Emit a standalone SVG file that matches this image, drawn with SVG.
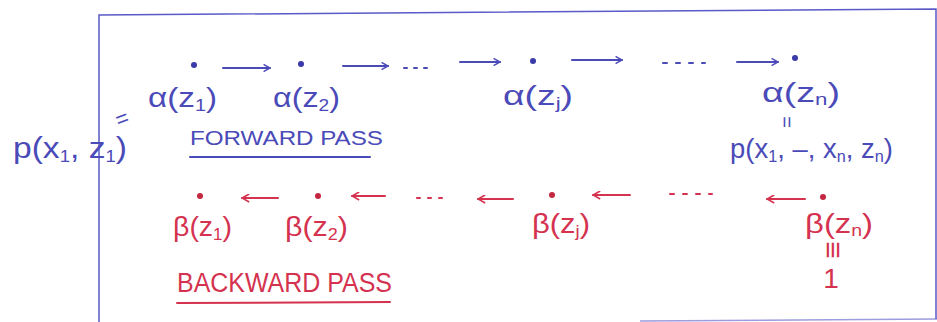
<svg xmlns="http://www.w3.org/2000/svg" width="937" height="322" viewBox="0 0 937 322">
<style>
.b{fill:#4a4ab8;font-family:"Liberation Sans",sans-serif;}
.r{fill:#d4324f;font-family:"Liberation Sans",sans-serif;}
.lb{font-size:27px;}
.sub{font-size:16px;}
.dotb{fill:#3a3aa8;}
.dotr{fill:#c42840;}
.cb{stroke:#4a4ab8;stroke-width:2;fill:none;stroke-linecap:round;}
.cr{stroke:#d4324f;stroke-width:2;fill:none;stroke-linecap:round;}
.frame{stroke:#5a5ac8;stroke-width:1.5;fill:none;}
</style>
<defs>
<marker id="ab" viewBox="0 0 10 10" refX="9" refY="5" markerWidth="8" markerHeight="8" orient="auto" markerUnits="userSpaceOnUse"><path d="M1,0.5 L9,5 L1,9.5" fill="none" stroke="#4a4ab8" stroke-width="1.8"/></marker>
<marker id="ar" viewBox="0 0 10 10" refX="9" refY="5" markerWidth="9" markerHeight="9" orient="auto" markerUnits="userSpaceOnUse"><path d="M1,0.5 L9,5 L1,9.5" fill="none" stroke="#d4324f" stroke-width="1.8"/></marker>
</defs>
<rect width="937" height="322" fill="#ffffff"/>
<g id="frame">
<path class="frame" d="M99,322 L99,15 L936,9 L936,319"/>
<path class="frame" d="M640,321 L937,319" opacity="0.6"/>
</g>
<g id="connectors">
<line class="cb" x1="223" y1="68" x2="270" y2="68" marker-end="url(#ab)"/>
<line class="cb" x1="343" y1="66" x2="388" y2="66" marker-end="url(#ab)"/>
<line class="cb" x1="404" y1="68" x2="430" y2="68" stroke-dasharray="3 7" stroke-width="1.4"/>
<line class="cb" x1="460" y1="62" x2="500" y2="62" marker-end="url(#ab)"/>
<line class="cb" x1="572" y1="60" x2="622" y2="60" marker-end="url(#ab)"/>
<line class="cb" x1="663" y1="63" x2="705" y2="63" stroke-dasharray="4 9" stroke-width="1.4"/>
<line class="cb" x1="737" y1="62" x2="778" y2="62" marker-end="url(#ab)"/>
<line class="cr" x1="278" y1="198" x2="242" y2="198" marker-end="url(#ar)"/>
<line class="cr" x1="385" y1="196" x2="352" y2="196" marker-end="url(#ar)"/>
<line class="cr" x1="417" y1="198" x2="443" y2="198" stroke-dasharray="3 8" stroke-width="1.4"/>
<line class="cr" x1="513" y1="199" x2="478" y2="199" marker-end="url(#ar)"/>
<line class="cr" x1="630" y1="195" x2="593" y2="195" marker-end="url(#ar)"/>
<line class="cr" x1="670" y1="194" x2="712" y2="194" stroke-dasharray="4 9" stroke-width="1.4"/>
<line class="cr" x1="805" y1="199" x2="767" y2="199" marker-end="url(#ar)"/>
</g>
<g id="alpha1">
<circle class="dotb" cx="194" cy="65" r="3"/>
<text class="b lb" x="148" y="107" textLength="69" lengthAdjust="spacingAndGlyphs">α(z<tspan class="sub" dy="4">1</tspan><tspan dy="-4">)</tspan></text>
<text class="b" x="116" y="126" font-size="22" transform="rotate(-20 122 120)">=</text>
<text class="b" x="13" y="158" font-size="29" textLength="114" lengthAdjust="spacingAndGlyphs">p(x<tspan class="sub" dy="4">1</tspan><tspan dy="-4">, z</tspan><tspan class="sub" dy="4">1</tspan><tspan dy="-4">)</tspan></text>
</g>
<g id="alpha2">
<circle class="dotb" cx="301" cy="64" r="3"/>
<text class="b lb" x="273" y="107" textLength="67" lengthAdjust="spacingAndGlyphs">α(z<tspan class="sub" dy="4">2</tspan><tspan dy="-4">)</tspan></text>
</g>
<g id="alphaj">
<circle class="dotb" cx="533" cy="61" r="3"/>
<text class="b lb" x="503" y="105" textLength="70" lengthAdjust="spacingAndGlyphs">α(z<tspan class="sub" dy="4">j</tspan><tspan dy="-4">)</tspan></text>
</g>
<g id="alphan">
<circle class="dotb" cx="795" cy="58" r="3"/>
<text class="b lb" x="762" y="102" textLength="78" lengthAdjust="spacingAndGlyphs">α(z<tspan class="sub" dy="3">n</tspan><tspan dy="-3">)</tspan></text>
<text class="b" x="786" y="122" font-size="20" text-anchor="middle" transform="rotate(90 786 122)" dy="6">=</text>
<text class="b" x="730" y="158" font-size="27" textLength="163" lengthAdjust="spacingAndGlyphs">p(x<tspan class="sub" dy="4">1</tspan><tspan dy="-4">, –, x</tspan><tspan class="sub" dy="4">n</tspan><tspan dy="-4">, z</tspan><tspan class="sub" dy="4">n</tspan><tspan dy="-4">)</tspan></text>
</g>
<g id="forward-label">
<text class="b" x="190" y="145" font-size="20" textLength="193" lengthAdjust="spacingAndGlyphs">FORWARD PASS</text>
<line class="cb" x1="190" y1="157" x2="370" y2="157"/>
</g>
<g id="beta1">
<circle class="dotr" cx="200" cy="196" r="3"/>
<text class="r lb" x="173" y="236" textLength="59" lengthAdjust="spacingAndGlyphs">β(z<tspan class="sub" dy="4">1</tspan><tspan dy="-4">)</tspan></text>
</g>
<g id="beta2">
<circle class="dotr" cx="318" cy="196" r="3"/>
<text class="r lb" x="285" y="236" textLength="63" lengthAdjust="spacingAndGlyphs">β(z<tspan class="sub" dy="4">2</tspan><tspan dy="-4">)</tspan></text>
</g>
<g id="betaj">
<circle class="dotr" cx="552" cy="195" r="3"/>
<text class="r lb" x="532" y="233" textLength="58" lengthAdjust="spacingAndGlyphs">β(z<tspan class="sub" dy="4">j</tspan><tspan dy="-4">)</tspan></text>
</g>
<g id="betan">
<circle class="dotr" cx="823" cy="197" r="3"/>
<text class="r lb" x="805" y="233" textLength="68" lengthAdjust="spacingAndGlyphs">β(z<tspan class="sub" dy="3">n</tspan><tspan dy="-3">)</tspan></text>
<text class="r" x="832" y="250" font-size="30" text-anchor="middle" transform="rotate(90 832 250)" dy="9">≡</text>
<text class="r" x="831" y="288" font-size="28" text-anchor="middle">1</text>
</g>
<g id="backward-label">
<text class="r" x="177" y="292" font-size="27" textLength="215" lengthAdjust="spacingAndGlyphs">BACKWARD PASS</text>
<line class="cr" x1="177" y1="303" x2="390" y2="302"/>
</g>
</svg>
